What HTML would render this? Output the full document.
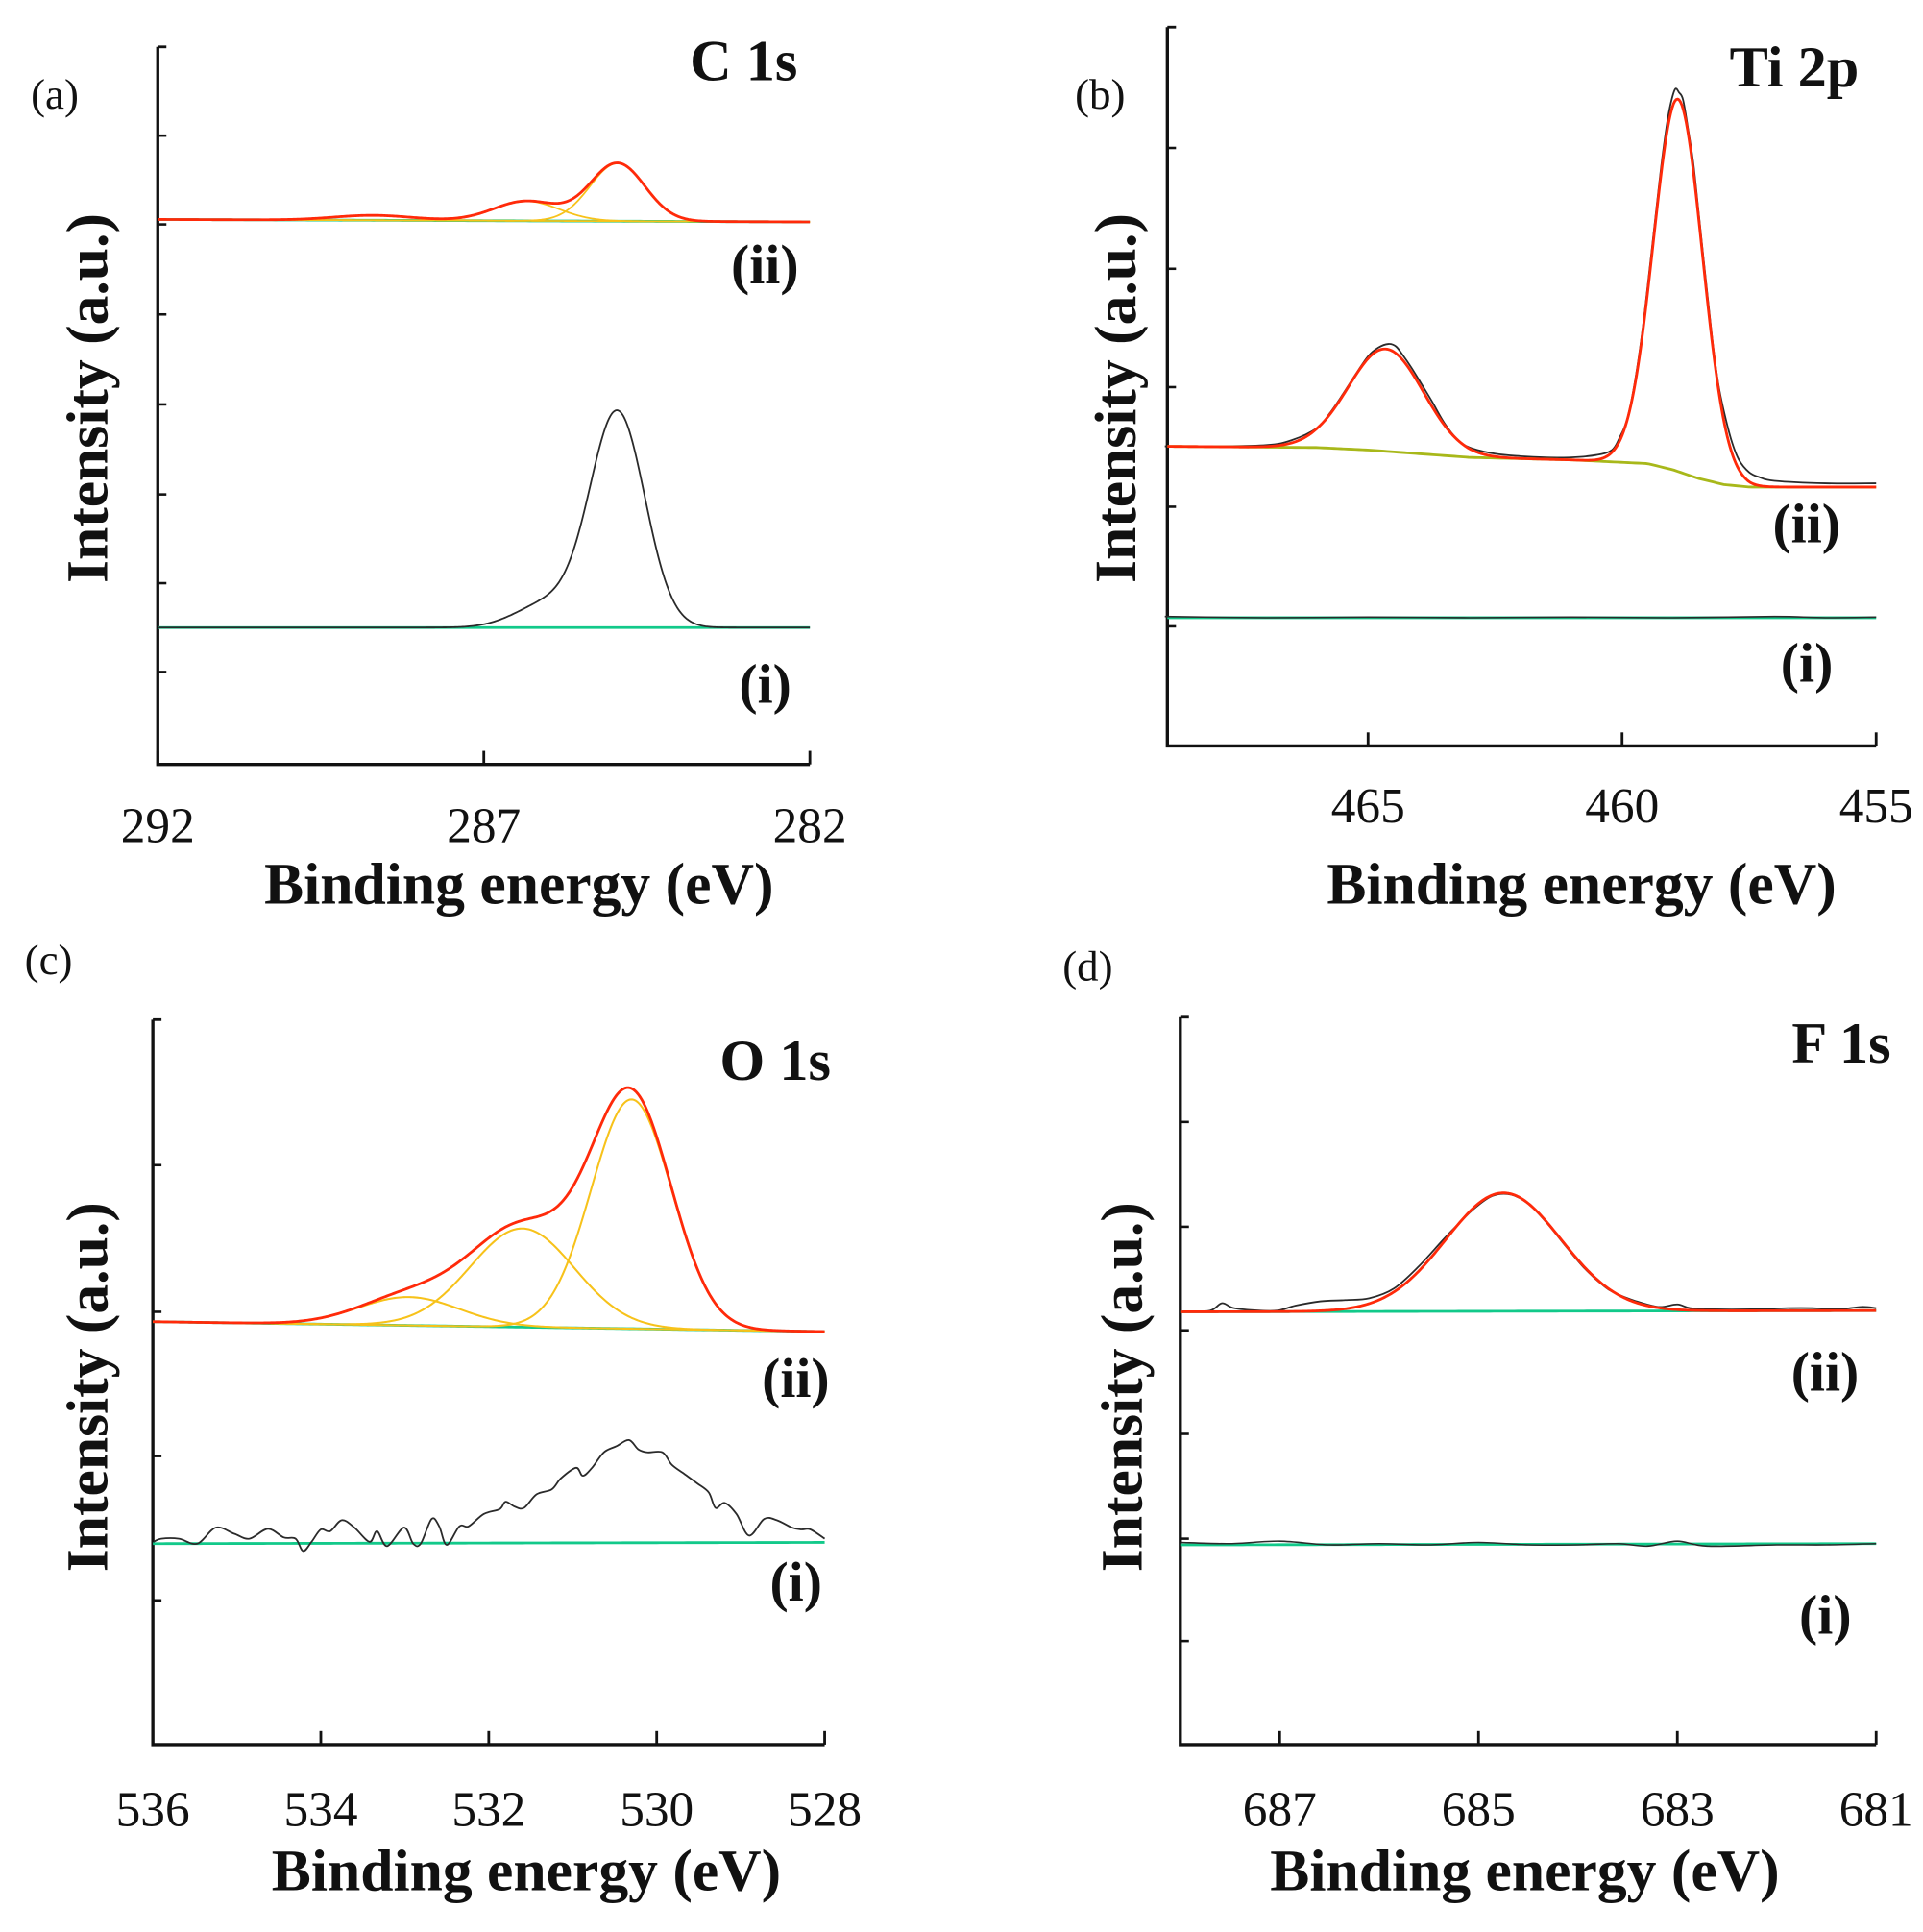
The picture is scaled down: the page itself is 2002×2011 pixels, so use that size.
<!DOCTYPE html>
<html><head><meta charset="utf-8"><style>
html,body{margin:0;padding:0;background:#fff;}
svg{display:block;}
text{font-family:"Liberation Serif",serif;fill:#111;}
.tick{font-size:40px;}
.ttl{font-size:48px;font-weight:bold;}
.pl{font-size:35px;}
.el{font-size:47px;font-weight:bold;}
.sl{font-size:45px;font-weight:bold;}
</style></head><body>
<svg id="fig" width="2002" height="2011" viewBox="0 0 1560 1567" xmlns="http://www.w3.org/2000/svg">
<rect width="1560" height="1567" fill="#fff"/>
<g id="layer"></g>
</svg>
<script>
// ---------- Panel (a) C 1s ----------
const aTicks = ["292","287","282"];
const aTickE = [292,287,282];
const aBg2 = [[292,442],[282,440]];
const aPeakC2 = [284.95,286.35,288.7];
const aPeakA2 = [47,16,4];
const aPeakS2 = [0.42,0.5,0.6];
const aBg1 = [[292,111],[282,111]];
const aPeakC1 = [284.95,286.0];
const aPeakA1 = [174,20];
const aPeakS1 = [0.42,0.5];

// ---------- Panel (b) Ti 2p ----------
const bTicks = ["465","460","455"];
const bTickE = [465,460,455];
const bBg2 = [[469,243],[466,242],[465,240],[464,237],[463,234],[461,232],[460.5,231],[459.5,229],[459,224],[458.5,217],[458,212],[457.5,210],[455,210]];
const bPeakC2 = [464.65,458.9];
const bPeakA2 = [83,302];
const bPeakS2 = [0.74,0.48];
const bRawE2 = [469,468,467,466.5,466,465.75,465.5,465.25,465,464.8,464.6,464.45,464.3,464.15,464,463.75,463.5,463.25,463,462.5,462,461.5,461,460.5,460.2,460.05,459.9,459.75,459.6,459.45,459.3,459.2,459.1,459.02,458.95,458.88,458.8,458.7,458.6,458.5,458.4,458.3,458.2,458.1,458,457.85,457.7,457.5,457.3,457,456,455];
const bRawV2 = [243,243,244,248,258,270,285,301,316,323,326,324,316,307,297,280,262,249,242,237,235,234,234,236,240,250,265,295,337,390,445,480,509,525,533,530,524,500,473,435,396,358,321,292,272,248,232,222,218,215,213,213];
const bBg1 = [[469,104],[455,104]];
const bRawE1 = [469,467,465,463,461,459,457,456,455];
const bRawV1 = [105,104,104.5,104,104.5,104,105,104,104.5];

// ---------- Panel (c) O 1s ----------
const cTicks = ["536","534","532","530","528"];
const cTickE = [536,534,532,530,528];
const cBg2 = [[536,343],[528,335]];
const cPeakC2 = [530.3,531.6,532.95];
const cPeakA2 = [186,80,23];
const cPeakS2 = [0.48,0.62,0.6];
const cBg1 = [[536,163],[528,164]];
const cRawE1 = [535.99,535.90,535.69,535.47,535.25,535.03,534.85,534.63,534.44,534.30,534.21,534.11,534.00,533.89,533.75,533.60,533.42,533.33,533.21,533.01,532.90,532.81,532.68,532.59,532.50,532.35,532.24,532.06,531.87,531.80,531.69,531.58,531.43,531.25,531.14,530.96,530.88,530.77,530.63,530.48,530.33,530.22,530.11,529.93,529.82,529.67,529.52,529.38,529.30,529.19,529.05,528.90,528.72,528.57,528.39,528.28,528.17,528.00];
const cRawV1 = [164.5,167,167,163,176,171,167,175,168,167,157,164.5,174.5,173,182,176,164.5,173,161,176,163,163,183,177,162,177,177,187,191,197,193,192,203,207,216,224.5,218,224.5,237,242,247,239.5,237,237,227,219.5,212,204.5,192,196,187,169.5,183,182,176,174.5,174.5,167];

// ---------- Panel (d) F 1s ----------
const dTicks = ["687","685","683","681"];
const dTickE = [687,685,683,681];
const dBg2 = [[688,351],[681,352]];
const dPeakC2 = [684.75];
const dPeakA2 = [96];
const dPeakS2 = [0.58];
const dRawE2 = [687.96,687.70,687.58,687.46,687.21,687.02,686.84,686.59,686.34,686.10,685.85,685.60,685.35,685.17,685.04,684.86,684.67,684.49,684.30,684.12,683.93,683.74,683.62,683.43,683.19,683.00,682.87,682.63,682.26,681.89,681.64,681.39,681.15,681.0];
const dRawV2 = [351,352,358,354,352,352,356,359.5,360.5,362,370,388,410,425,435,445,446,438,422,404,386,372,366,360,355,357,354,353,353,354,354,353,355,354];
const dBg1 = [[688,162],[681,163]];
const dRawE1 = [688,687.5,687,686.5,686,685.5,685,684.5,684,683.6,683.3,683,682.7,682,681.5,681];
const dRawV1 = [164,163,165,162,163,162,164,162,162,163,161,165,161,162,162,163];

const NS = "http://www.w3.org/2000/svg";
const layer = document.getElementById('layer');
const COL = {green:"#12c98a", yellow:"#f7c21a", red:"#ff2a0a", black:"#2a2a2a", olive:"#a8b81a"};

function mk(tag, attrs, parent){
  const el = document.createElementNS(NS, tag);
  for (const k in attrs) el.setAttribute(k, attrs[k]);
  (parent||layer).appendChild(el);
  return el;
}
function interp(pts, E){
  const p = pts.slice().sort((a,b)=>b[0]-a[0]);
  if (E >= p[0][0]) return p[0][1];
  for (let i=0;i<p.length-1;i++){
    if (E <= p[i][0] && E >= p[i+1][0]){
      const t=(p[i][0]-E)/(p[i][0]-p[i+1][0]);
      return p[i][1]+t*(p[i+1][1]-p[i][1]);
    }
  }
  return p[p.length-1][1];
}
function gauss(E,c,a,s){ return a*Math.exp(-((E-c)*(E-c))/(2*s*s)); }

function makePanel(cfg){
  const g = mk('g',{});
  
  
  const xs = E => cfg.x0 + (cfg.eL - E)/(cfg.eL - cfg.eR)*(cfg.x1 - cfg.x0);
  const ys = v => cfg.yB - v;
  const ax = mk('path',{d:`M${cfg.x0},${cfg.yT} L${cfg.x0},${cfg.yB} L${cfg.x1},${cfg.yB}`, fill:"none", stroke:"#111","stroke-width":2.6}, g);
  
  
  mk('line',{x1:cfg.x0,y1:cfg.yT,x2:cfg.x0+7,y2:cfg.yT,stroke:"#111","stroke-width":2.2},g);
  cfg.yTicks.forEach(y=>{
    const t = mk('line',{x1:cfg.x0,y1:y,x2:cfg.x0+7,y2:y,stroke:"#111","stroke-width":2},g);
    
    
  });
  cfg.tickE.forEach((E,i)=>{
    const x = xs(E);
    const t = mk('line',{x1:x,y1:cfg.yB,x2:x,y2:cfg.yB-11,stroke:"#111","stroke-width":2.2},g);
    
    
    const lb = mk('text',{x:x,y:cfg.tickY,"text-anchor":"middle",class:"tick"},g);
    lb.textContent = cfg.ticks[i];
    
    
  });
  const xt = mk('text',{x:cfg.xtX,y:cfg.xtY,"text-anchor":"middle",class:"ttl"},g);
  xt.textContent = "Binding energy (eV)";
  
  
  const yt = mk('text',{x:0,y:0,"text-anchor":"middle",class:"ttl",transform:`translate(${cfg.ytX},${cfg.ytY}) rotate(-90)`},g);
  yt.textContent = "Intensity (a.u.)";
  
  
  const pl = mk('text',{x:cfg.plX,y:cfg.plY,class:"pl"},g);
  pl.textContent = cfg.letter;
  
  
  const el = mk('text',{x:cfg.elX,y:cfg.elY,"text-anchor":"end",class:"el"},g);
  el.textContent = cfg.element;
  
  
  const s2 = mk('text',{x:cfg.s2X,y:cfg.s2Y,"text-anchor":"end",class:"sl"},g);
  s2.textContent = "(ii)";
  
  
  const s1 = mk('text',{x:cfg.s1X,y:cfg.s1Y,"text-anchor":"end",class:"sl"},g);
  s1.textContent = "(i)";
  
  
  return {g, xs, ys, cfg};
}

function grid(eL,eR,n){ const a=[]; for(let i=0;i<=n;i++) a.push(eL+(eR-eL)*i/n); return a; }

function drawModel(P, bg, C, A, S, which, color, width, name){
  const Es = grid(P.cfg.eL, P.cfg.eR, 500);
  const d = Es.map((E,i)=>{
    let v = interp(bg,E);
    C.forEach((c,k)=>{ if(which===null || which===k) v += gauss(E,c,A[k],S[k]); });
    return (i?'L':'M')+P.xs(E).toFixed(2)+','+P.ys(v).toFixed(2);
  }).join(' ');
  const p = mk('path',{d, fill:"none", stroke:color, "stroke-width":width, "stroke-linejoin":"round"}, P.g);
  
  
}
function drawBg(P, bg, color, width, name){
  const Es = grid(P.cfg.eL, P.cfg.eR, 200);
  const d = Es.map((E,i)=>(i?'L':'M')+P.xs(E).toFixed(2)+','+P.ys(interp(bg,E)).toFixed(2)).join(' ');
  const p = mk('path',{d, fill:"none", stroke:color, "stroke-width":width}, P.g);
  
  
}
function drawRaw(P, Es, Vs, color, width, name){
  const pts = Es.map((E,i)=>[P.xs(E), P.ys(Vs[i])]);
  let d = 'M'+pts[0][0].toFixed(2)+','+pts[0][1].toFixed(2);
  for (let i=0;i<pts.length-1;i++){
    const p0 = pts[Math.max(0,i-1)], p1 = pts[i], p2 = pts[i+1], p3 = pts[Math.min(pts.length-1,i+2)];
    const c1 = [p1[0]+(p2[0]-p0[0])/6, p1[1]+(p2[1]-p0[1])/6];
    const c2 = [p2[0]-(p3[0]-p1[0])/6, p2[1]-(p3[1]-p1[1])/6];
    d += ` C${c1[0].toFixed(2)},${c1[1].toFixed(2)} ${c2[0].toFixed(2)},${c2[1].toFixed(2)} ${p2[0].toFixed(2)},${p2[1].toFixed(2)}`;
  }
  const p = mk('path',{d, fill:"none", stroke:color, "stroke-width":width, "stroke-linejoin":"round"}, P.g);
  
  
}

// Panel a
const PA = makePanel({name:"panel-a-c1s", x0:128,x1:657,yT:38,yB:620,eL:292,eR:282,
  yTicks:[110,182,255,328,401,473,545], ticks:aTicks, tickE:aTickE, tickY:683,
  xtX:421,xtY:733, ytX:87,ytY:323, letter:"(a)", plX:25,plY:88,
  element:"C 1s", elX:647,elY:65, s2X:648,s2Y:230, s1X:642,s1Y:570});
drawBg(PA, aBg1, COL.green, 2.2, "c1s-i-background");
drawModel(PA, aBg1, aPeakC1, aPeakA1, aPeakS1, null, COL.black, 1.4, "c1s-i-spectrum");
drawBg(PA, aBg2, COL.green, 2.2, "c1s-ii-background");
aPeakC2.forEach((c,k)=>drawModel(PA, aBg2, aPeakC2, aPeakA2, aPeakS2, k, COL.yellow, 1.4, "c1s-ii-component"));
drawModel(PA, aBg2, aPeakC2, aPeakA2, aPeakS2, null, COL.red, 2.2, "c1s-ii-fit");

// Panel b
const PB = makePanel({name:"panel-b-ti2p", x0:947,x1:1522,yT:22,yB:605,eL:468.95,eR:455,
  yTicks:[120,218,314,411,508], ticks:bTicks, tickE:bTickE, tickY:667,
  xtX:1283,xtY:733, ytX:921,ytY:323, letter:"(b)", plX:872,plY:88,
  element:"Ti 2p", elX:1508,elY:70, s2X:1493,s2Y:440, s1X:1487,s1Y:553});
drawBg(PB, bBg1, COL.green, 2.2, "ti2p-i-background");
drawRaw(PB, bRawE1, bRawV1, COL.black, 1.2, "ti2p-i-spectrum");
drawRaw(PB, bRawE2, bRawV2, COL.black, 1.4, "ti2p-ii-spectrum");
drawBg(PB, bBg2, COL.olive, 2.2, "ti2p-ii-background");
drawModel(PB, bBg2, bPeakC2, bPeakA2, bPeakS2, null, COL.red, 2.2, "ti2p-ii-fit");

// Panel c
const PC = makePanel({name:"panel-c-o1s", x0:124,x1:669,yT:827,yB:1415,eL:536,eR:528,
  yTicks:[945,1064,1181,1298], ticks:cTicks, tickE:cTickE, tickY:1481,
  xtX:427,xtY:1533, ytX:87,ytY:1125, letter:"(c)", plX:20,plY:790,
  element:"O 1s", elX:674,elY:876, s2X:673,s2Y:1133, s1X:667,s1Y:1298});
drawBg(PC, cBg1, COL.green, 2.2, "o1s-i-background");
drawRaw(PC, cRawE1, cRawV1, COL.black, 1.4, "o1s-i-spectrum");
drawBg(PC, cBg2, COL.green, 2.2, "o1s-ii-background");
cPeakC2.forEach((c,k)=>drawModel(PC, cBg2, cPeakC2, cPeakA2, cPeakS2, k, COL.yellow, 1.6, "o1s-ii-component"));
drawModel(PC, cBg2, cPeakC2, cPeakA2, cPeakS2, null, COL.red, 2.2, "o1s-ii-fit");

// Panel d
const PD = makePanel({name:"panel-d-f1s", x0:957.5,x1:1522,yT:825,yB:1415,eL:688,eR:681,
  yTicks:[910,995,1079,1163,1248,1331], ticks:dTicks, tickE:dTickE, tickY:1481,
  xtX:1237,xtY:1533, ytX:926,ytY:1125, letter:"(d)", plX:862,plY:795,
  element:"F 1s", elX:1534,elY:862, s2X:1508,s2Y:1128, s1X:1502,s1Y:1325});
drawBg(PD, dBg1, COL.green, 2.2, "f1s-i-background");
drawRaw(PD, dRawE1, dRawV1, COL.black, 1.2, "f1s-i-spectrum");
drawBg(PD, dBg2, COL.green, 2.2, "f1s-ii-background");
drawRaw(PD, dRawE2, dRawV2, COL.black, 1.4, "f1s-ii-spectrum");
drawModel(PD, dBg2, dPeakC2, dPeakA2, dPeakS2, null, COL.red, 2.2, "f1s-ii-fit");
</script>
</body></html>
